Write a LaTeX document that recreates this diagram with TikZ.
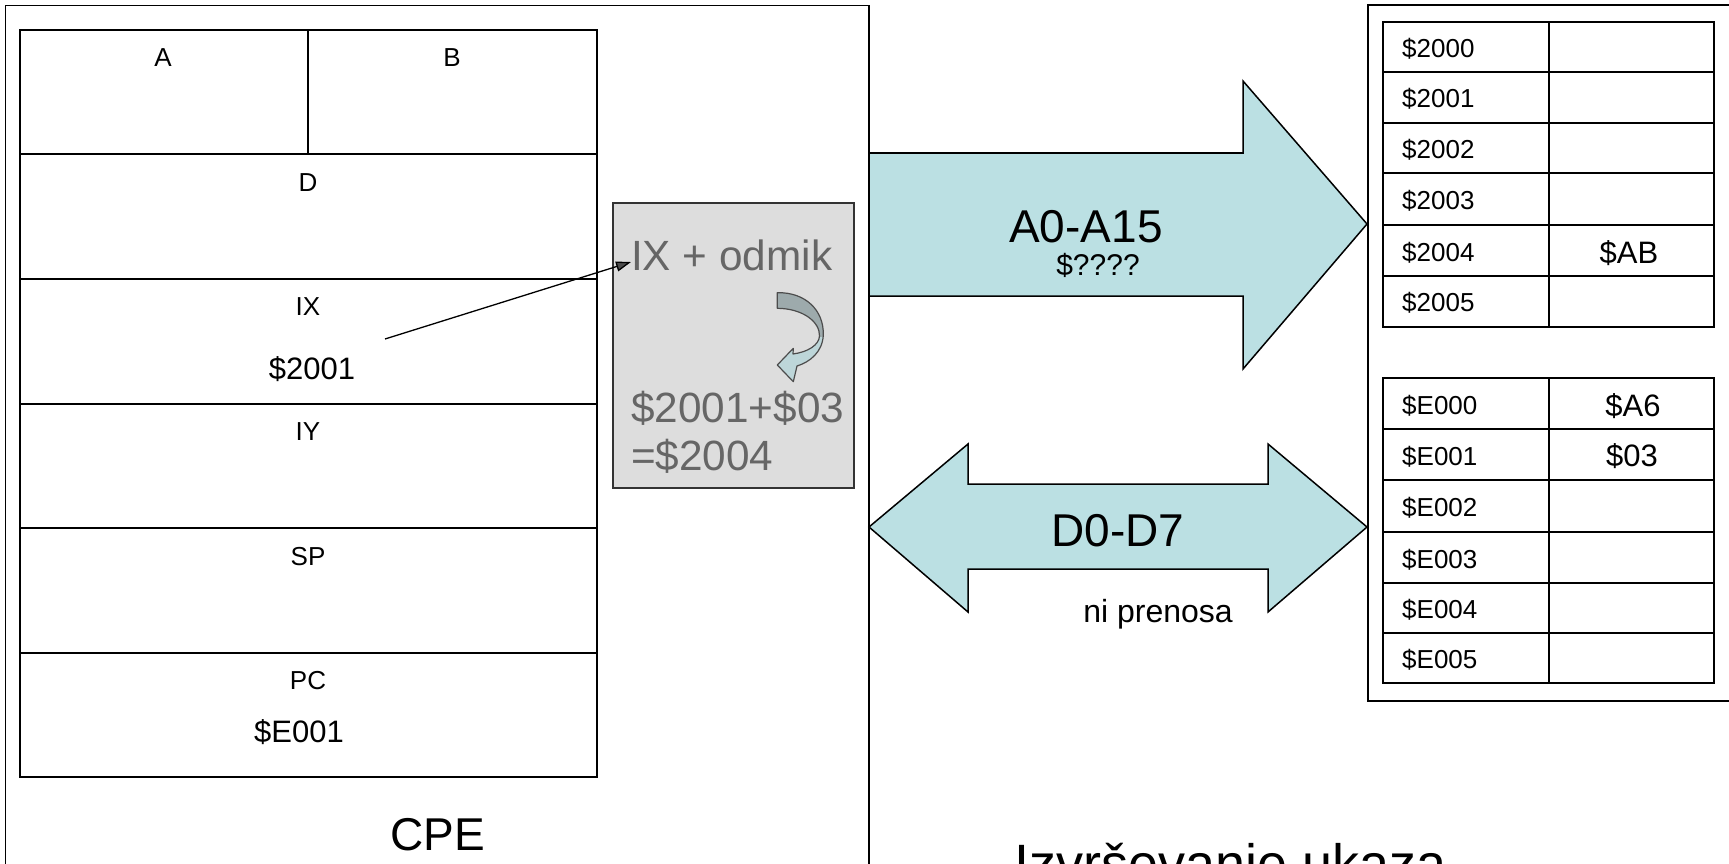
\documentclass[tikz,border=0pt]{standalone}
\usepackage{fontspec}
\setmainfont{Liberation Sans}
\usetikzlibrary{arrows.meta}
\definecolor{busfill}{HTML}{BBE0E3}
\definecolor{boxfill}{HTML}{DDDDDD}
\definecolor{graytext}{HTML}{666666}
\definecolor{cdark}{HTML}{9DAAAC}
\definecolor{clight}{HTML}{BDD6D9}
\newcommand{\carrowpath}{(777.3,292.7) .. controls (805,292) and (824,310) .. (823.3,335) .. controls (822.5,352) and (810,362) .. (797,366) -- (793.3,381.7) -- (777.3,365) -- (793.3,348.3) -- (793,354) .. controls (808,352) and (819,345) .. (819.5,336) .. controls (820,322) and (803,308.5) .. (777.3,308.3) -- cycle}
\begin{document}
\begin{tikzpicture}[x=1pt,y=-1pt,
  frame/.style={draw=black,line width=1.5pt},
  grid/.style={draw=black,line width=2pt},
  bus/.style={fill=busfill,draw=black,line width=1.5pt,line join=miter},
  lbl/.style={inner sep=0pt,font=\fontsize{26}{30}\selectfont},
  val/.style={inner sep=0pt,font=\fontsize{31}{36}\selectfont},
  big/.style={inner sep=0pt,font=\fontsize{46}{52}\selectfont},
  gtxt/.style={inner sep=0pt,anchor=base west,text=graytext,font=\fontsize{42.3}{48}\selectfont}]
\useasboundingbox (0,0) rectangle (1729,864);
\fill[white] (0,0) rectangle (1729,864);

% buses
\path[bus] (869,153) -- (1243,153) -- (1243,81) -- (1367,224) -- (1243,369) -- (1243,296) -- (869,296) -- cycle;
\path[bus] (869,527) -- (968,444) -- (968,484) -- (1268,484) -- (1268,444) -- (1367,527) -- (1268,612) -- (1268,569) -- (968,569) -- (968,612) -- cycle;

% frames
\draw[frame] (5.5,5.5) -- (869,5.5) -- (869,880);
\draw[frame] (5.5,880) -- (5.5,5.5);
\draw[frame] (1740,5) -- (1368,5) -- (1368,701) -- (1740,701);

% register table
\draw[grid] (20,30) rectangle (597,777);
\foreach \yy in {154,279,404,528,653} \draw[grid] (20,\yy) -- (597,\yy);
\draw[grid] (308,30) -- (308,154);
\node[lbl] (rA) at (163,58) {A};
\node[lbl] (rB) at (452,58) {B};
\node[lbl] (rD) at (308,183) {D};
\node[lbl] (rIX) at (308,307) {IX};
\node[val] (vIX) at (312,369) {\$2001};
\node[lbl] (rIY) at (308,432) {IY};
\node[lbl] (rSP) at (308,557) {SP};
\node[lbl] (rPC) at (308,681) {PC};
\node[val] (vPC) at (299,732) {\$E001};
\node[big] (cpe) at (438,835) {CPE};

% gray box
\draw[fill=boxfill,draw=black!80,line width=1.5pt] (613,203) rectangle (854,488);
\node[gtxt] (odmik) at (631,270) {IX + odmik};
\node[gtxt] (sum) at (631,422) {\$2001+\$03};
\node[gtxt] (res) at (631,470) {=\$2004};
\fill[clight] \carrowpath;
\begin{scope}
\clip (760,280) rectangle (830,336);
\fill[cdark] \carrowpath;
\end{scope}
\draw[black!70,line width=1.2pt,line join=round] \carrowpath;

% IX pointer
\coordinate (ixs) at (385,339);
\draw[black,line width=1.3pt,-{Triangle[length=15pt,width=10pt,fill=black!70]}] (ixs) -- ([yshift=8pt]odmik.base west);

% bus labels
\node[big] (abus) at (1086,227) {A0-A15};
\node[inner sep=0pt,font=\fontsize{30}{34}\selectfont] (aq) at (1098,265) {\$????};
\node[big] (dbus) at (1118,531) {D0-D7};
\node[inner sep=0pt,anchor=base,font=\fontsize{32}{36}\selectfont] (nipr) at (1158,622) {ni prenosa};

% memory table 1
\draw[grid] (1383,21.7) rectangle (1714,326.7);
\foreach \yy in {71.7,122.7,173.3,225,276} \draw[grid] (1383,\yy) -- (1714,\yy);
\draw[grid] (1549,21.7) -- (1549,326.7);
\foreach \t/\yy/\nm in {2000/48.5/m0,2001/99/m1,2002/150/m2,2003/201/m3,2004/252.3/m4,2005/303.2/m5}
  \node[lbl,anchor=west] (\nm) at (1402,\yy) {\$\t};
\node[val] (mAB) at (1629,253) {\$AB};

% memory table 2
\draw[grid] (1383,378) rectangle (1714,683);
\foreach \yy in {429,480,532,583,633} \draw[grid] (1383,\yy) -- (1714,\yy);
\draw[grid] (1549,378) -- (1549,683);
\foreach \t/\yy/\nm in {000/405.5/e0,001/456.5/e1,002/508/e2,003/559.5/e3,004/610/e4,005/660/e5}
  \node[lbl,anchor=west] (\nm) at (1402,\yy) {\$E\t};
\node[val] (mA6) at (1633,406) {\$A6};
\node[val] (m03) at (1632,456) {\$03};

% title
\node[inner sep=0pt,anchor=base west,font=\fontsize{54}{60}\selectfont] (title) at (1014,882) {Izvrševanje ukaza};
\end{tikzpicture}
\end{document}
